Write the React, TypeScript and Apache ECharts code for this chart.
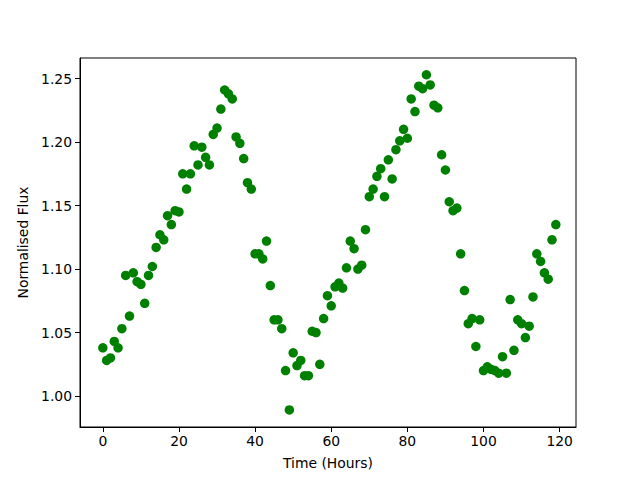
import React, { useEffect, useRef } from "react";
import * as echarts from "echarts";

const timeHours: number[] = Array.from({ length: 120 }, (_, i) => i);

const flux: number[] = [
  1.038, 1.028, 1.030, 1.043, 1.038, 1.053, 1.095, 1.063, 1.097, 1.090,
  1.088, 1.073, 1.095, 1.102, 1.117, 1.127, 1.123, 1.142, 1.135, 1.146,
  1.145, 1.175, 1.163, 1.175, 1.197, 1.182, 1.196, 1.188, 1.182, 1.206,
  1.211, 1.226, 1.241, 1.238, 1.234, 1.204, 1.199, 1.187, 1.168, 1.163,
  1.112, 1.112, 1.108, 1.122, 1.087, 1.060, 1.060, 1.053, 1.020, 0.989,
  1.034, 1.024, 1.028, 1.016, 1.016, 1.051, 1.050, 1.025, 1.061, 1.079,
  1.071, 1.086, 1.089, 1.085, 1.101, 1.122, 1.116, 1.100, 1.103, 1.131,
  1.157, 1.163, 1.173, 1.179, 1.157, 1.186, 1.171, 1.194, 1.201, 1.210,
  1.203, 1.234, 1.224, 1.244, 1.242, 1.253, 1.245, 1.229, 1.227, 1.190,
  1.178, 1.153, 1.146, 1.148, 1.112, 1.083, 1.057, 1.061, 1.039, 1.060,
  1.020, 1.023, 1.021, 1.020, 1.018, 1.031, 1.018, 1.076, 1.036, 1.060,
  1.057, 1.046, 1.055, 1.078, 1.112, 1.106, 1.097, 1.092, 1.123, 1.135,
];

const xTicks: number[] = [0, 20, 40, 60, 80, 100, 120];
const yTicks: number[] = [1.0, 1.05, 1.1, 1.15, 1.2, 1.25];

const FONT = "DejaVu Sans";

export default function App() {
  const ref = useRef<HTMLDivElement>(null);
  useEffect(() => {
    if (!ref.current) return;
    const chart = echarts.init(ref.current, null, { renderer: "svg" });
    chart.setOption({
      animation: false,
      backgroundColor: "#ffffff",
      grid: {
        left: 80,
        right: 64,
        top: 58,
        bottom: 53,
        show: true,
        borderColor: "#000000",
        borderWidth: 1,
        backgroundColor: "transparent",
      },
      xAxis: {
        type: "value",
        min: -6,
        max: 124.3,
        name: "Time (Hours)",
        nameLocation: "middle",
        nameGap: 29,
        nameTextStyle: { color: "#000", fontFamily: FONT, fontSize: 13.9 },
        axisLine: { show: true, onZero: false, lineStyle: { color: "#000", width: 1 } },
        axisTick: {
          show: true,
          inside: false,
          length: 5,
          customValues: xTicks,
          lineStyle: { color: "#000", width: 1 },
        },
        axisLabel: {
          show: true,
          margin: 7,
          customValues: xTicks,
          color: "#000",
          fontFamily: FONT,
          fontSize: 13.9,
        },
        splitLine: { show: false },
      },
      yAxis: {
        type: "value",
        min: 0.9756,
        max: 1.2662,
        name: "Normalised Flux",
        nameLocation: "middle",
        nameGap: 47,
        nameRotate: 90,
        nameTextStyle: { color: "#000", fontFamily: FONT, fontSize: 13.9 },
        axisLine: { show: true, onZero: false, lineStyle: { color: "#000", width: 1 } },
        axisTick: {
          show: true,
          inside: false,
          length: 5,
          customValues: yTicks,
          lineStyle: { color: "#000", width: 1 },
        },
        axisLabel: {
          show: true,
          margin: 8,
          customValues: yTicks,
          color: "#000",
          fontFamily: FONT,
          fontSize: 13.9,
          formatter: (v: number) => v.toFixed(2),
        },
        splitLine: { show: false },
      },
      series: [
        {
          type: "scatter",
          data: timeHours.map((t, i) => [t, flux[i]]),
          symbol: "circle",
          symbolSize: 9.5,
          itemStyle: { color: "#008000", opacity: 1 },
        },
      ],
    });
    return () => chart.dispose();
  }, []);
  return (
    <div
      ref={ref}
      style={{ position: "fixed", left: 0, top: 0, width: 640, height: 480, background: "#fff" }}
    />
  );
}
